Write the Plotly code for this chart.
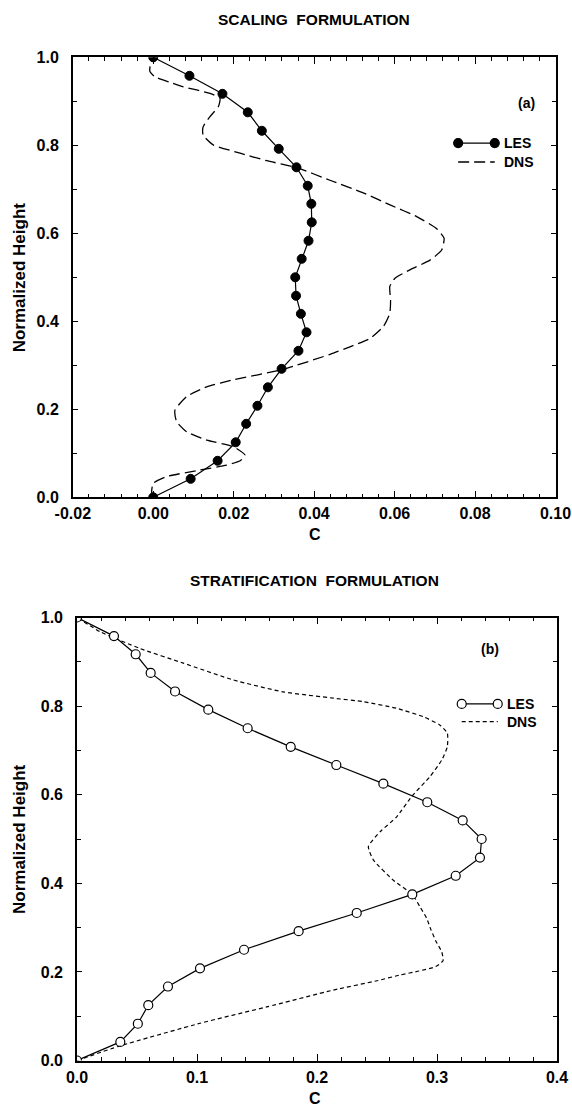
import plotly.graph_objects as go

# ---------- (a) Scaling formulation ----------
les_a_height = [0.000, 0.042, 0.083, 0.125, 0.167, 0.208, 0.250, 0.292, 0.333,
                0.375, 0.417, 0.458, 0.500, 0.542, 0.583, 0.625, 0.667, 0.708,
                0.750, 0.792, 0.833, 0.875, 0.917, 0.958, 1.000]
les_a_c = [0.0000, 0.0093, 0.0160, 0.0205, 0.0231, 0.0259, 0.0285, 0.0319, 0.0361,
           0.0381, 0.0367, 0.0355, 0.0353, 0.0369, 0.0386, 0.0394, 0.0393, 0.0384,
           0.0356, 0.0312, 0.0270, 0.0235, 0.0172, 0.0090, 0.0000]

dns_a_height = [0.000, 0.013, 0.032, 0.047, 0.062, 0.073, 0.083, 0.096, 0.115, 0.130,
                0.149, 0.172, 0.198, 0.229, 0.251, 0.267, 0.290, 0.325, 0.342, 0.361,
                0.388, 0.418, 0.448, 0.479, 0.498, 0.517, 0.539, 0.562, 0.589, 0.611,
                0.638, 0.664, 0.692, 0.720, 0.749, 0.765, 0.782, 0.801, 0.823, 0.842,
                0.865, 0.888, 0.907, 0.918, 0.933, 0.943, 0.956, 0.967, 0.979, 1.000]
dns_a_c = [0.0000, -0.0004, 0.0000, 0.0033, 0.0116, 0.0182, 0.0216, 0.0228, 0.0199, 0.0133,
           0.0083, 0.0058, 0.0054, 0.0083, 0.0133, 0.0199, 0.0320, 0.0440, 0.0489, 0.0539,
           0.0572, 0.0588, 0.0590, 0.0588, 0.0601, 0.0638, 0.0688, 0.0717, 0.0723, 0.0704,
           0.0655, 0.0590, 0.0522, 0.0441, 0.0357, 0.0282, 0.0216, 0.0149, 0.0124, 0.0124,
           0.0141, 0.0162, 0.0166, 0.0141, 0.0075, 0.0042, 0.0004, -0.0008, -0.0008, 0.0000]

# ---------- (b) Stratification formulation ----------
les_b_height = les_a_height
les_b_c = [0.0000, 0.0361, 0.0507, 0.0594, 0.0758, 0.1025, 0.1392, 0.1847, 0.2331,
           0.2794, 0.3156, 0.3358, 0.3372, 0.3214, 0.2919, 0.2553, 0.2161, 0.1781,
           0.1422, 0.1094, 0.0817, 0.0614, 0.0489, 0.0308, 0.0000]

dns_b_height = [0.000, 0.033, 0.084, 0.121, 0.159, 0.180, 0.193, 0.202, 0.212, 0.225,
                0.245, 0.270, 0.295, 0.321, 0.347, 0.375, 0.407, 0.453, 0.483, 0.516,
                0.550, 0.596, 0.641, 0.678, 0.708, 0.739, 0.757, 0.776, 0.795, 0.810,
                0.818, 0.832, 0.859, 0.897, 0.930, 0.968, 1.000]
dns_b_c = [0.0000, 0.0358, 0.1025, 0.1581, 0.2136, 0.2500, 0.2692, 0.2850, 0.2990, 0.3050,
           0.3040, 0.2990, 0.2950, 0.2914, 0.2858, 0.2794, 0.2636, 0.2469, 0.2428, 0.2525,
           0.2664, 0.2789, 0.2942, 0.3039, 0.3086, 0.3086, 0.3025, 0.2886, 0.2664, 0.2386,
           0.2136, 0.1719, 0.1303, 0.0886, 0.0525, 0.0192, 0.0000]

# axis ticks
xa_ticks = [-0.02, 0.00, 0.02, 0.04, 0.06, 0.08, 0.10]
xa_ticktext = ["-0.02", "0.00", "0.02", "0.04", "0.06", "0.08", "0.10"]
xb_ticks = [0.0, 0.1, 0.2, 0.3, 0.4]
xb_ticktext = ["0.0", "0.1", "0.2", "0.3", "0.4"]

titles = ["SCALING  FORMULATION", "STRATIFICATION  FORMULATION"]
panel_tags = ["(a)", "(b)"]
x_label = "C"
y_label = "Normalized Height"

FONT = "Liberation Sans, Arial, sans-serif"
W, H = 572, 1109

fig = go.Figure()

fig.add_trace(go.Scatter(x=dns_a_c, y=dns_a_height, mode="lines", xaxis="x", yaxis="y",
                         line=dict(color="black", width=1.3, dash="11px,5px",
                                   shape="spline", smoothing=0.5),
                         showlegend=False))
fig.add_trace(go.Scatter(x=les_a_c, y=les_a_height, mode="lines+markers", xaxis="x", yaxis="y",
                         line=dict(color="black", width=1.2),
                         marker=dict(symbol="circle", size=9, color="black",
                                     line=dict(color="black", width=1)),
                         showlegend=False))
fig.add_trace(go.Scatter(x=dns_b_c, y=dns_b_height, mode="lines", xaxis="x2", yaxis="y2",
                         line=dict(color="black", width=1.2, dash="4px,3px",
                                   shape="spline", smoothing=0.5),
                         showlegend=False))
fig.add_trace(go.Scatter(x=les_b_c, y=les_b_height, mode="lines+markers", xaxis="x2", yaxis="y2",
                         line=dict(color="black", width=1.2),
                         marker=dict(symbol="circle", size=9, color="white",
                                     line=dict(color="black", width=1.2)),
                         showlegend=False))

tickfont = dict(family=FONT, size=16, color="black", weight="bold")
common_axis = dict(showline=True, linecolor="black", linewidth=1.6, mirror="allticks",
                   ticks="inside", tickcolor="black", tickwidth=1.2, showgrid=False,
                   zeroline=False, tickfont=tickfont, fixedrange=True)
x_axis_extra = dict(ticklen=7, ticklabelstandoff=1)
y_axis_extra = dict(ticklen=5, ticklabelstandoff=9, dtick=0.2, tickformat=".1f",
                    range=[0, 1],
                    minor=dict(dtick=0.1, ticklen=4, tickcolor="black", ticks="inside"))

# pixel-based domains
ya_dom = [1 - 497.3 / H, 1 - 57.3 / H]
yb_dom = [1 - 1060.5 / H, 1 - 617.5 / H]

fig.update_layout(
    width=W, height=H, margin=dict(l=0, r=0, t=0, b=0, autoexpand=False),
    paper_bgcolor="white", plot_bgcolor="white", showlegend=False,
    xaxis=dict(domain=[72.8 / W, 555.5 / W], range=[-0.02, 0.10],
               tickmode="array", tickvals=xa_ticks, ticktext=xa_ticktext, anchor="y",
               minor=dict(tickmode="linear", tick0=-0.02, dtick=0.004, ticklen=4,
                          tickcolor="black", ticks="inside"),
               **x_axis_extra, **common_axis),
    yaxis=dict(domain=ya_dom, anchor="x", **y_axis_extra, **common_axis),
    xaxis2=dict(domain=[77 / W, 557 / W], range=[0, 0.4],
                tickmode="array", tickvals=xb_ticks, ticktext=xb_ticktext, anchor="y2",
                minor=dict(tickmode="linear", tick0=0, dtick=0.02, ticklen=4,
                           tickcolor="black", ticks="inside"),
                **x_axis_extra, **common_axis),
    yaxis2=dict(domain=yb_dom, anchor="x2", **y_axis_extra, **common_axis),
)

ann = []
# panel titles
for txt, yc in zip(titles, [1 - 20 / H, 1 - 580 / H]):
    ann.append(dict(text=txt, x=314 / W, y=yc, xref="paper", yref="paper", showarrow=False,
                    xanchor="center", yanchor="middle",
                    font=dict(family=FONT, size=15.5, color="black", weight="bold")))
# axis titles
for yc in [1 - 534 / H, 1 - 1098 / H]:
    ann.append(dict(text=x_label, x=315 / W, y=yc, xref="paper", yref="paper", showarrow=False,
                    xanchor="center", yanchor="middle",
                    font=dict(family=FONT, size=16, color="black", weight="bold")))
for yc in [(ya_dom[0] + ya_dom[1]) / 2, (yb_dom[0] + yb_dom[1]) / 2]:
    ann.append(dict(text=y_label, x=19 / W, y=yc, xref="paper", yref="paper", showarrow=False,
                    textangle=-90, xanchor="center", yanchor="middle",
                    font=dict(family=FONT, size=17, color="black", weight="bold")))
# panel tags
tag_font = dict(family=FONT, size=14, color="black", weight="bold")
ann.append(dict(text=panel_tags[0], x=0.0929, y=0.896, xref="x", yref="y", showarrow=False,
                font=tag_font))
ann.append(dict(text=panel_tags[1], x=0.344, y=0.930, xref="x2", yref="y2", showarrow=False,
                font=tag_font))

# legend keys
legend_font = dict(family=FONT, size=14, color="black", weight="bold")
shapes = []


def legend_key(xr, yr, x0, x1, y_les, y_dns, xt, filled, dns_dash):
    shapes.append(dict(type="line", xref=xr, yref=yr, x0=x0, x1=x1, y0=y_les, y1=y_les,
                       line=dict(color="black", width=1.2)))
    for xc in (x0, x1):
        shapes.append(dict(type="circle", xref=xr, yref=yr, xsizemode="pixel", ysizemode="pixel",
                           xanchor=xc, yanchor=y_les, x0=-4.5, x1=4.5, y0=-4.5, y1=4.5,
                           fillcolor="black" if filled else "white",
                           line=dict(color="black", width=1.2)))
    shapes.append(dict(type="line", xref=xr, yref=yr, x0=x0, x1=x1, y0=y_dns, y1=y_dns,
                       line=dict(color="black", width=1.3, dash=dns_dash)))
    ann.append(dict(text="LES", x=xt, y=y_les, xref=xr, yref=yr, showarrow=False,
                    xanchor="left", yanchor="middle", font=legend_font))
    ann.append(dict(text="DNS", x=xt, y=y_dns, xref=xr, yref=yr, showarrow=False,
                    xanchor="left", yanchor="middle", font=legend_font))


legend_key("x", "y", 0.0758, 0.0849, 0.805, 0.762, 0.0868, True, "11px,5px")
legend_key("x2", "y2", 0.3206, 0.3506, 0.805, 0.765, 0.3570, False, "4px,3px")

fig.update_layout(annotations=ann, shapes=shapes)
fig.write_html("out.html")
